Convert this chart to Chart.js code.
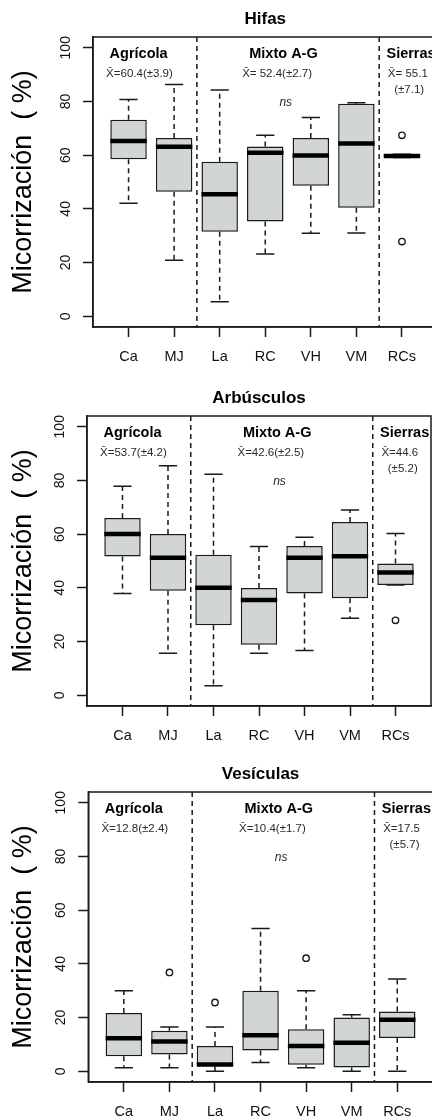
<!DOCTYPE html>
<html lang="es">
<head>
<meta charset="UTF-8" />
<title>Micorrización</title>
<script src="https://cdn.jsdelivr.net/npm/chart.js@4.4.0/dist/chart.umd.min.js"></script>
<style>
  html, body { margin: 0; padding: 0; background: #fff; overflow: hidden; width: 432px; height: 1116px; }
  .panel { position: absolute; left: 0; }
</style>
</head>
<body>
<div class="panel" style="top:0px"><canvas id="hifas"></canvas></div>
<div class="panel" style="top:379px"><canvas id="arbusculos"></canvas></div>
<div class="panel" style="top:755px"><canvas id="vesiculas"></canvas></div>
<script>

const sites = ['Ca', 'MJ', 'La', 'RC', 'VH', 'VM', 'RCs'];
const yTicks = [0, 20, 40, 60, 80, 100];
const groups = ['Agrícola', 'Mixto A-G', 'Sierras'];

// Hifas
const hifasLow  = [42.1, 20.9,  5.4, 23.2, 30.9, 31.0, 59.1];
const hifasQ1   = [58.5, 46.4, 31.5, 35.3, 48.6, 40.4, 59.1];
const hifasMed  = [65.3, 63.1, 45.4, 60.9, 59.9, 64.3, 59.7];
const hifasQ3   = [73.2, 66.4, 57.5, 63.2, 66.4, 79.1, 60.3];
const hifasHigh = [80.7, 86.3, 84.3, 67.4, 74.0, 79.5, 60.3];
const hifasOut  = [[], [], [], [], [], [], [67.4, 27.8]];
const hifasMeans = ['X\u0304=60.4(±3.9)', 'X\u0304= 52.4(±2.7)', 'X\u0304= 55.1', '(±7.1)'];

// Arbúsculos
const arbLow  = [37.9, 15.6,  3.5, 15.6, 16.7, 28.7, 41.1];
const arbQ1   = [51.7, 38.9, 26.1, 18.8, 37.9, 36.1, 41.1];
const arbMed  = [60.1, 51.2, 40.0, 35.5, 51.2, 51.8, 45.7];
const arbQ3   = [66.0, 60.1, 52.3, 39.9, 55.6, 64.5, 49.1];
const arbHigh = [77.8, 85.5, 82.3, 55.4, 58.8, 69.0, 60.2];
const arbOut  = [[], [], [], [], [], [], [27.9]];
const arbMeans = ['X\u0304=53.7(±4.2)', 'X\u0304=42.6(±2.5)', 'X\u0304=44.6', '(±5.2)'];

// Vesículas
const vesLow  = [ 1.3,  1.3, 0.0,  3.3,  1.3,  0.0,  0.0];
const vesQ1   = [ 5.6,  6.2, 1.9,  7.7,  2.4,  1.4, 12.4];
const vesMed  = [12.3, 11.1, 2.5, 13.4,  9.4, 10.6, 19.2];
const vesQ3   = [21.7, 15.1, 9.4, 30.0, 15.6, 20.0, 22.3];
const vesHigh = [30.0, 16.5, 16.5, 53.2, 30.0, 21.0, 34.4];
const vesOut  = [[], [36.8], [25.6], [], [42.1], [], []];
const vesMeans = ['X\u0304=12.8(±2.4)', 'X\u0304=10.4(±1.7)', 'X\u0304=17.5', '(±5.7)'];

const FONT = '"Liberation Sans", Arial, sans-serif';
const INK = '#1a1a1a';

function boxChart(id, title, low, q1, med, q3, high, out, means, area) {
    const canvas = document.getElementById(id);
    canvas.width = area.width;
    canvas.height = 372;
    canvas.style.width = area.width + 'px';
    canvas.style.height = '372px';
    canvas.parentNode.style.width = area.width + 'px';

    // whiskers, medians, dividers, notes
    const extras = {
        id: 'extras',
        beforeDatasetsDraw(chart) {
            const {ctx, scales: {x, y}} = chart;
            const cap = x.getPixelForValue(1.2) - x.getPixelForValue(1);
            ctx.save();
            ctx.strokeStyle = INK;
            ctx.lineWidth = 1.5;
            low.forEach((lo, i) => {
                const px = x.getPixelForValue(i + 1);
                ctx.setLineDash([5, 4]);
                ctx.beginPath();
                ctx.moveTo(px, y.getPixelForValue(q3[i]));
                ctx.lineTo(px, y.getPixelForValue(high[i]));
                ctx.moveTo(px, y.getPixelForValue(q1[i]));
                ctx.lineTo(px, y.getPixelForValue(lo));
                ctx.stroke();
                ctx.setLineDash([]);
                ctx.beginPath();
                ctx.moveTo(px - cap, y.getPixelForValue(high[i]));
                ctx.lineTo(px + cap, y.getPixelForValue(high[i]));
                ctx.moveTo(px - cap, y.getPixelForValue(lo));
                ctx.lineTo(px + cap, y.getPixelForValue(lo));
                ctx.stroke();
            });
            ctx.restore();
        },
        afterDatasetsDraw(chart) {
            const {ctx, chartArea: ca, scales: {x, y}} = chart;
            const half = x.getPixelForValue(1.4) - x.getPixelForValue(1);
            ctx.save();
            ctx.strokeStyle = '#000';
            ctx.lineWidth = 4.5;
            med.forEach((m, i) => {
                const px = x.getPixelForValue(i + 1);
                const py = y.getPixelForValue(m);
                ctx.beginPath();
                ctx.moveTo(px - half, py);
                ctx.lineTo(px + half, py);
                ctx.stroke();
            });

            // group dividers
            ctx.strokeStyle = INK;
            ctx.lineWidth = 1.5;
            ctx.setLineDash([5, 4]);
            [2.5, 6.5].forEach(v => {
                const px = x.getPixelForValue(v);
                ctx.beginPath();
                ctx.moveTo(px, ca.top);
                ctx.lineTo(px, ca.bottom);
                ctx.stroke();
            });
            ctx.setLineDash([]);

            // frame
            ctx.strokeRect(ca.left, ca.top, ca.right - ca.left, ca.bottom - ca.top);

            // notes
            ctx.textBaseline = 'middle';
            ctx.fillStyle = '#000';
            ctx.font = 'bold 14.5px ' + FONT;
            ctx.textAlign = 'center';
            ctx.fillText(groups[0], x.getPixelForValue(1.22), y.getPixelForValue(97.8));
            ctx.fillText(groups[1], x.getPixelForValue(4.4), y.getPixelForValue(97.8));
            ctx.textAlign = 'left';
            ctx.fillText(groups[2], x.getPixelForValue(6.66), y.getPixelForValue(97.8));

            ctx.fillStyle = '#2a2a2a';
            ctx.font = '11.5px ' + FONT;
            ctx.textAlign = 'center';
            ctx.fillText(means[0], x.getPixelForValue(1.24), y.getPixelForValue(90.2));
            ctx.fillText(means[1], x.getPixelForValue(4.26), y.getPixelForValue(90.2));
            ctx.textAlign = 'left';
            ctx.fillText(means[2], x.getPixelForValue(6.69), y.getPixelForValue(90.2));
            ctx.fillText(means[3], x.getPixelForValue(6.83), y.getPixelForValue(84.2));

            ctx.font = 'italic 12px ' + FONT;
            ctx.textAlign = 'center';
            ctx.fillText('ns', x.getPixelForValue(4.45), y.getPixelForValue(79.7));
            ctx.restore();
        }
    };

    return new Chart(canvas, {
        type: 'bar',
        data: {
            datasets: [{
                data: sites.map((s, i) => ({x: i + 1, y: [q1[i], q3[i]]})),
                backgroundColor: '#d2d5d5',
                borderColor: INK,
                borderWidth: 1.5,
                borderSkipped: false,
                barPercentage: 0.8,
                categoryPercentage: 1
            }, {
                type: 'scatter',
                data: out.flatMap((vals, i) => vals.map(v => ({x: i + 1, y: v}))),
                pointRadius: 3.2,
                pointBorderWidth: 1.4,
                pointBorderColor: INK,
                pointBackgroundColor: '#fff'
            }]
        },
        options: {
            responsive: false,
            animation: false,
            events: [],
            layout: {
                autoPadding: false,
                padding: { left: 0, right: area.width - area.right, top: 0, bottom: 0 }
            },
            plugins: {
                legend: { display: false },
                tooltip: { enabled: false },
                title: {
                    display: true,
                    text: title,
                    fullSize: false,
                    color: '#000',
                    font: { family: FONT, size: 17, weight: 'bold', lineHeight: 1.2 },
                    padding: { top: 9, bottom: 7.6 }
                }
            },
            scales: {
                x: {
                    type: 'linear',
                    offset: false,
                    min: 0.22,
                    max: 7.78,
                    afterBuildTicks: s => { s.ticks = sites.map((c, i) => ({value: i + 1})); },
                    afterFit: s => { s.height = 45; },
                    ticks: {
                        autoSkip: false,
                        maxRotation: 0,
                        padding: 11,
                        color: '#111',
                        font: { family: FONT, size: 14.5 },
                        callback: v => sites[v - 1]
                    },
                    grid: { offset: false, drawOnChartArea: false, drawTicks: true, tickLength: 10, tickColor: INK, tickWidth: 1.5 },
                    border: { display: true, color: INK, width: 1.5 }
                },
                y: {
                    type: 'linear',
                    min: -4,
                    max: 104,
                    afterBuildTicks: s => { s.ticks = yTicks.map(v => ({value: v})); },
                    afterFit: s => { s.width = area.left; },
                    ticks: {
                        minRotation: 90,
                        maxRotation: 90,
                        crossAlign: 'center',
                        padding: 5,
                        color: '#111',
                        font: { family: FONT, size: 14 }
                    },
                    grid: { drawOnChartArea: false, drawTicks: true, tickLength: 10, tickColor: INK, tickWidth: 1.5 },
                    border: { display: true, color: INK, width: 1.5 },
                    title: {
                        display: true,
                        text: 'Micorrización  ( %)',
                        color: '#000',
                        font: { family: FONT, size: 27, lineHeight: 1.2 },
                        padding: { top: 7, bottom: 0 }
                    }
                }
            }
        },
        plugins: [extras]
    });
}

boxChart('hifas', 'Hifas', hifasLow, hifasQ1, hifasMed, hifasQ3, hifasHigh, hifasOut, hifasMeans,
    { left: 93, right: 437.5, width: 438 });
boxChart('arbusculos', 'Arbúsculos', arbLow, arbQ1, arbMed, arbQ3, arbHigh, arbOut, arbMeans,
    { left: 87, right: 431, width: 432 });
boxChart('vesiculas', 'Vesículas', vesLow, vesQ1, vesMed, vesQ3, vesHigh, vesOut, vesMeans,
    { left: 88.3, right: 432.8, width: 433 });

</script>
</body>
</html>
